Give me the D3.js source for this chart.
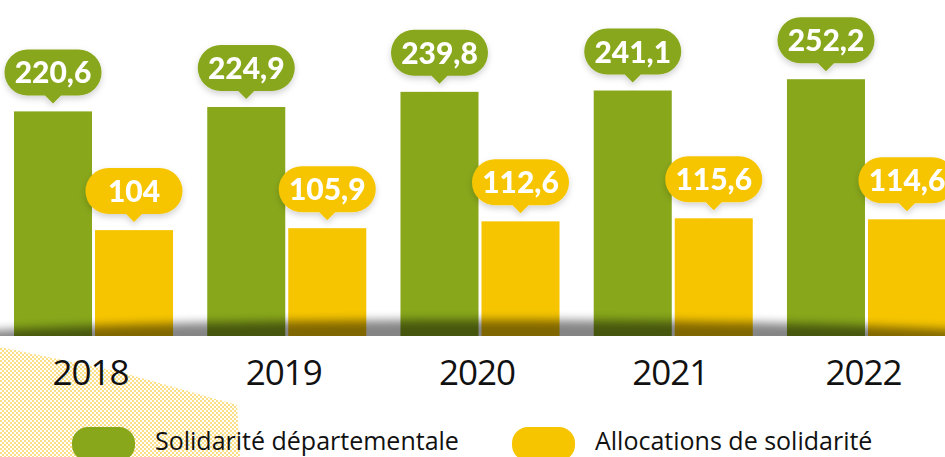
<!DOCTYPE html>
<html>
<head>
<meta charset="utf-8">
<script src="https://cdn.jsdelivr.net/npm/d3@7"></script>
<style>
  body { margin: 0; background: #fff; }
  svg { display: block; }
</style>
</head>
<body>
<svg></svg>
<script>
// data
var years = ["2018", "2019", "2020", "2021", "2022"];
var solidarite = [220.6, 224.9, 239.8, 241.1, 252.2];
var allocations = [104, 105.9, 112.6, 115.6, 114.6];
var seriesKeys = ["sol", "alloc"];
var seriesNames = ["Solidarité départementale", "Allocations de solidarité"];
var seriesColors = ["#88a71b", "#f6c500"];

var width = 945, height = 457;
var svg = d3.select("svg").attr("width", width).attr("height", height);
var defs = svg.append("defs");

// halftone dots
var pat = defs.append("pattern").attr("id", "dots")
  .attr("width", 4).attr("height", 4).attr("patternUnits", "userSpaceOnUse");
pat.append("circle").attr("cx", 1).attr("cy", 1).attr("r", 0.95).attr("fill", "#f7cb3c");
pat.append("circle").attr("cx", 3).attr("cy", 3).attr("r", 0.95).attr("fill", "#f7cb3c");

svg.append("path")
  .attr("d", "M0,347 L120,372 L237,405 L240,457 L0,457 Z")
  .attr("fill", "url(#dots)").attr("opacity", 0.9);

// shadow filter for bubbles
var f = defs.append("filter").attr("id", "drop").attr("x", "-30%").attr("y", "-30%")
  .attr("width", "160%").attr("height", "180%");
f.append("feDropShadow").attr("dx", 0).attr("dy", 3).attr("stdDeviation", 3)
  .attr("flood-color", "#000").attr("flood-opacity", 0.18);

var blur = defs.append("filter").attr("id", "blur").attr("x", "-20%").attr("y", "-100%")
  .attr("width", "140%").attr("height", "300%");
blur.append("feGaussianBlur").attr("stdDeviation", "6 5");

defs.append("clipPath").attr("id", "clipBase")
  .append("rect").attr("x", 0).attr("y", 0).attr("width", width).attr("height", 336);

var x0 = d3.scaleBand().domain(years).range([14, 946]).paddingInner(0.177).paddingOuter(0);
var x1 = d3.scaleBand().domain(seriesKeys).range([0, x0.bandwidth()]).paddingInner(0.037);
var y = d3.scaleLinear().domain([0, 330]).range([336, 0]);
var color = d3.scaleOrdinal().domain(seriesKeys).range(seriesColors);

var table = years.map(function (yr, i) {
  return { year: yr, values: [
    { key: "sol", value: solidarite[i] },
    { key: "alloc", value: allocations[i] }
  ] };
});

var groups = svg.selectAll("g.year").data(table).enter().append("g")
  .attr("class", "year")
  .attr("transform", function (d) { return "translate(" + x0(d.year) + ",0)"; });

groups.selectAll("rect").data(function (d) { return d.values; }).enter().append("rect")
  .attr("x", function (d) { return x1(d.key); })
  .attr("y", function (d) { return y(d.value); })
  .attr("width", x1.bandwidth())
  .attr("height", function (d) { return y(0) - y(d.value); })
  .attr("fill", function (d) { return color(d.key); });

// ground shadow
svg.append("g").attr("clip-path", "url(#clipBase)")
  .append("ellipse")
  .attr("cx", 480).attr("cy", 342).attr("rx", 570).attr("ry", 22)
  .attr("fill", "#000").attr("opacity", 0.48)
  .attr("filter", "url(#blur)");

// value bubbles
var bw = 93, bh = 46;
var labels = groups.selectAll("g.lab").data(function (d) { return d.values; }).enter().append("g")
  .attr("class", "lab")
  .attr("transform", function (d) {
    return "translate(" + (x1(d.key) + x1.bandwidth() / 2) + "," + (y(d.value) - 8) + ")";
  })
  .attr("filter", "url(#drop)");

labels.append("path")
  .attr("d", function () {
    var r = 21, hw = bw / 2, top = -bh - 8, bot = -8;
    return "M" + (-hw + r) + "," + top +
      " L" + (hw - r) + "," + top +
      " A" + r + "," + r + " 0 0 1 " + (hw - r) + "," + bot +
      " L8," + bot + " L0,0 L-8," + bot +
      " L" + (-hw + r) + "," + bot +
      " A" + r + "," + r + " 0 0 1 " + (-hw + r) + "," + top + " Z";
  })
  .attr("fill", function (d) { return color(d.key); });

labels.append("text")
  .attr("x", 0).attr("y", -20)
  .attr("text-anchor", "middle")
  .attr("fill", "#fff")
  .style("font-family", "Lato, sans-serif")
  .style("font-weight", "900")
  .style("font-size", "30px")
  .text(function (d) { return String(d.value).replace(".", ","); });

// year labels
svg.selectAll("text.yr").data(years).enter().append("text")
  .attr("class", "yr")
  .attr("x", function (d) { return x0(d) + x0.bandwidth() / 2 - 3; })
  .attr("y", 385)
  .attr("text-anchor", "middle")
  .style("font-family", "'Open Sans', sans-serif")
  .style("font-size", "35px")
  .style("letter-spacing", "-1px")
  .attr("fill", "#111")
  .text(function (d) { return d; });

// legend
var legX = [72, 512];
var leg = svg.selectAll("g.leg").data(seriesKeys).enter().append("g")
  .attr("class", "leg")
  .attr("transform", function (d, i) { return "translate(" + legX[i] + ",427)"; });
leg.append("rect").attr("width", 63).attr("height", 34).attr("rx", 16)
  .attr("fill", function (d) { return color(d); });
leg.append("text").attr("x", 83).attr("y", 23)
  .style("font-family", "'Open Sans', sans-serif")
  .style("font-size", "25px")
  .attr("fill", "#111")
  .text(function (d, i) { return seriesNames[i]; });
</script>
</body>
</html>
